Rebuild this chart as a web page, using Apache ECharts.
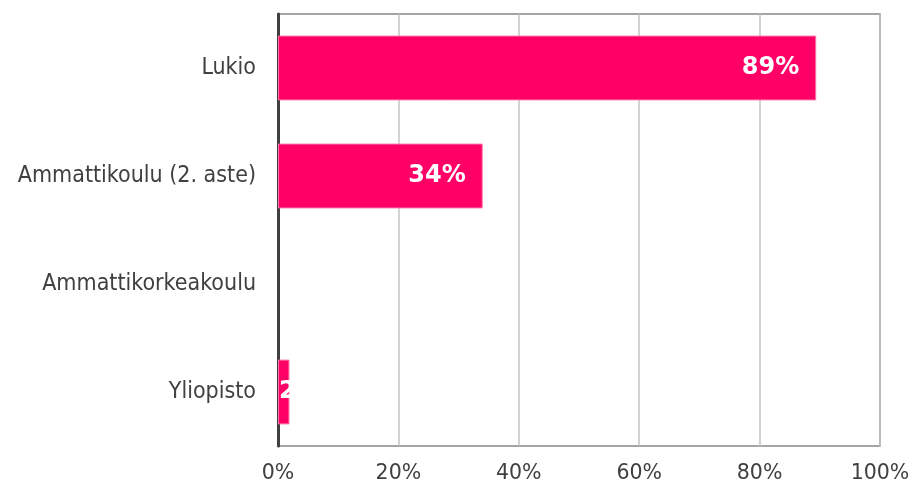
<!DOCTYPE html>
<html>
<head>
<meta charset="utf-8">
<script src="https://cdn.jsdelivr.net/npm/echarts@6/dist/echarts.min.js"></script>
<style>html,body{margin:0;padding:0;background:#fff;}#c{width:914px;height:490px;}</style>
</head>
<body>
<div id="c"></div>
<script>
const categories = ['Lukio', 'Ammattikoulu (2. aste)', 'Ammattikorkeakoulu', 'Yliopisto'];
const values = [89.4, 34, 0, 1.9];
const valueLabels = ['89%', '34%', '', '2%'];
const xTicks = [0, 20, 40, 60, 80, 100];

const chart = echarts.init(document.getElementById('c'), null, {renderer: 'canvas'});
const data = values.map((v, i) => {
  const item = {value: v};
  if (i === 3) {
    item.label = {position: 'insideLeft', distance: 1};
  }
  if (!valueLabels[i]) item.label = {show: false};
  if (v === 0) item.itemStyle = {borderWidth: 0, opacity: 0};
  return item;
});
chart.setOption({
  animation: false,
  grid: {left: 278, right: 34, top: 14, bottom: 44, show: true, borderColor: '#888888', borderWidth: 1.5, backgroundColor: 'transparent'},
  xAxis: {
    type: 'value', min: xTicks[0], max: xTicks[xTicks.length - 1], interval: 20,
    axisLine: {show: false}, axisTick: {show: false},
    splitLine: {show: true, lineStyle: {color: '#C4C4C4', width: 1.5}},
    axisLabel: {formatter: '{value}%', color: '#404040', fontFamily: 'DejaVu Sans', fontSize: 20.5, margin: 17}
  },
  yAxis: {
    type: 'category', data: categories, inverse: true,
    axisLine: {show: true, lineStyle: {color: '#404040', width: 3}},
    axisTick: {show: false},
    splitLine: {show: false},
    axisLabel: {color: '#404040', fontFamily: 'DejaVu Sans Condensed', fontSize: 23, margin: 22, padding: [5, 0, 0, 0]}
  },
  series: [{
    type: 'bar', data: data, barWidth: '60%',
    itemStyle: {color: '#FF0066', borderColor: '#FF6FA3', borderWidth: 1},
    label: {
      show: true, position: 'insideRight', distance: 17,
      color: '#FFFFFF', fontFamily: 'DejaVu Sans', fontWeight: 'bold', fontSize: 24,
      formatter: p => valueLabels[p.dataIndex]
    }
  }]
});
</script>
</body>
</html>
